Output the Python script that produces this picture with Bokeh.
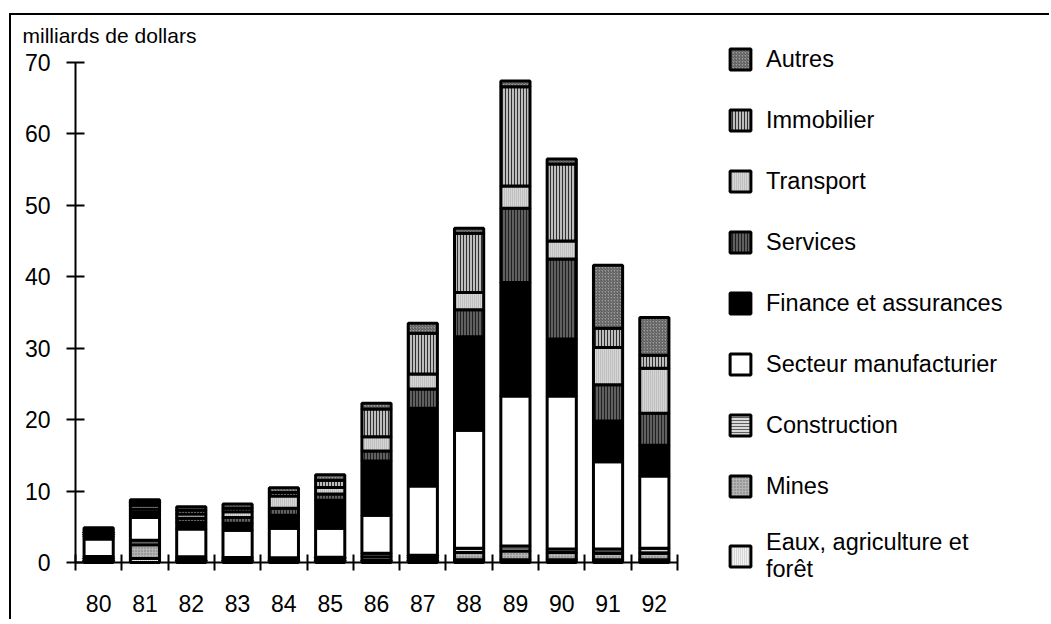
from bokeh.plotting import figure
from bokeh.models import ColumnDataSource, Range1d, FixedTicker, Legend, LegendItem, Label
from bokeh.embed import file_html
from bokeh.resources import INLINE

years = ["80", "81", "82", "83", "84", "85", "86", "87", "88", "89", "90", "91", "92"]

eaux = [0.3, 0.55, 0.3, 0.3, 0.3, 0.3, 0.3, 0.3, 0.4, 0.4, 0.4, 0.4, 0.4]
mines = [0.3, 1.95, 0.2, 0.2, 0.2, 0.25, 0.5, 0.4, 1.0, 1.2, 1.0, 0.9, 0.9]
construction = [0.25, 0.6, 0.3, 0.2, 0.15, 0.2, 0.5, 0.3, 0.6, 0.7, 0.5, 0.6, 0.7]
manufacturier = [2.45, 3.2, 3.9, 3.8, 4.15, 4.05, 5.3, 9.7, 16.5, 21.0, 21.4, 12.2, 10.1]
finance = [0.35, 0.7, 0.9, 1.0, 1.8, 3.9, 7.6, 10.9, 13.1, 15.9, 8.0, 5.7, 4.3]
services = [0.3, 0.5, 0.6, 0.8, 1.0, 0.9, 1.4, 2.7, 3.8, 10.4, 11.2, 5.1, 4.5]
transport = [0.3, 0.5, 0.6, 0.8, 1.7, 0.9, 2.0, 2.1, 2.4, 3.1, 2.5, 5.2, 6.3]
immobilier = [0.3, 0.4, 0.5, 0.5, 0.5, 1.0, 3.9, 5.7, 8.3, 13.9, 10.8, 2.7, 1.8]
autres = [0.31, 0.4, 0.5, 0.6, 0.65, 0.8, 0.8, 1.4, 0.7, 0.8, 0.7, 8.8, 5.3]

labels = ["Eaux, agriculture et\nforêt", "Mines", "Construction", "Secteur manufacturier",
          "Finance et assurances", "Services", "Transport", "Immobilier", "Autres"]
keys = ["eaux", "mines", "construction", "manufacturier", "finance", "services",
        "transport", "immobilier", "autres"]
y_ticks = [0, 10, 20, 30, 40, 50, 60, 70]
y_title = "milliards de dollars"

fills = ["#f2f2f2", "#b4b4b4", "#dadada", "#ffffff", "#000000", "#606060", "#d6d6d6", "#bdbdbd", "#9a9a9a"]
hatches = ["vertical_line", "dot", "horizontal_line", " ", " ", "vertical_line", "vertical_line", "vertical_line", "right_diagonal_line"]
hatch_colors = ["#b8b8b8", "#707070", "#606060", "#000000", "#000000", "#202020", "#a8a8a8", "#303030", "#505050"]
hatch_scales = [2, 3, 3, 3, 3, 3, 2, 3, 3]

n = len(years)
xs = list(range(n))
src = ColumnDataSource(dict(x=xs, eaux=eaux, mines=mines, construction=construction,
                            manufacturier=manufacturier, finance=finance, services=services,
                            transport=transport, immobilier=immobilier, autres=autres))

FONT = "Liberation Sans"

# layout (pixels): the frame fills the whole canvas; the axes are placed at fixed
# locations so the legend and the title can live inside the frame
W, H = 1040, 606
AX_X, AX_Y0, AX_Y1 = 64, 547, 47      # y axis column, y=0 row, y=top row (canvas px)
PLOT_W = 602                           # width of the category area
ymax = max(y_ticks)
pxx = PLOT_W / n
pxy = (AX_Y0 - AX_Y1) / ymax
x_lo = -0.5 - AX_X / pxx
x_hi = -0.5 + (W - AX_X) / pxx
y_lo = -(H - AX_Y0) / pxy
y_hi = ymax + AX_Y1 / pxy

p = figure(width=W, height=H, output_backend="svg", toolbar_location=None,
           x_range=Range1d(x_lo, x_hi), y_range=Range1d(y_lo, y_hi),
           min_border_left=0, min_border_right=0, min_border_top=0, min_border_bottom=0)
p.title.visible = False
p.styles = {"position": "relative", "left": "9px", "top": "13px",
            "border-left": "2px solid black", "border-top": "2px solid black"}

renderers = p.vbar_stack(keys, x="x", width=0.63, source=src,
                         fill_color=fills, hatch_pattern=hatches, hatch_color=hatch_colors,
                         hatch_scale=hatch_scales, hatch_weight=1,
                         line_color="black", line_width=3)

p.xgrid.visible = False
p.ygrid.visible = False
p.outline_line_color = None

# x axis: labels at centres, ticks at the boundaries
xa = p.xaxis[0]
xa.fixed_location = 0
xa.bounds = (-0.5, n - 0.5)
xa.ticker = FixedTicker(ticks=xs, minor_ticks=[i - 0.5 for i in range(n + 1)])
xa.major_label_overrides = {i: y for i, y in enumerate(years)}
xa.major_tick_in = 0
xa.major_tick_out = 0
xa.minor_tick_in = 8
xa.minor_tick_out = 8
xa.minor_tick_line_width = 2
xa.minor_tick_line_color = "black"
xa.axis_line_width = 2
xa.major_label_standoff = 24
xa.major_label_text_font = FONT
xa.major_label_text_font_size = "23px"
xa.major_label_text_color = "black"

ya = p.yaxis[0]
ya.fixed_location = -0.5
ya.bounds = (0, ymax)
ya.ticker = FixedTicker(ticks=y_ticks, minor_ticks=[])
ya.major_tick_in = 9
ya.major_tick_out = 9
ya.major_tick_line_width = 2
ya.axis_line_width = 2
ya.major_label_standoff = 16
ya.major_label_text_font = FONT
ya.major_label_text_font_size = "23px"
ya.major_label_text_color = "black"

p.add_layout(Label(x=-0.5, y=ymax, x_offset=-53, y_offset=27, text=y_title,
                   text_font=FONT, text_font_size="21px", text_color="black",
                   text_baseline="middle", text_align="left"))

items = [LegendItem(label=labels[i], renderers=[renderers[i]]) for i in range(len(keys) - 1, -1, -1)]
legend = Legend(items=items, location=(716, 38), padding=0, margin=0,
                glyph_width=26, glyph_height=26, label_height=36, spacing=25,
                label_standoff=13, label_text_font=FONT, label_text_font_size="23.5px",
                label_text_line_height=1.7, label_text_color="black",
                border_line_color=None, background_fill_alpha=0)
p.add_layout(legend)

open("out.html", "w").write(file_html(p, INLINE))
